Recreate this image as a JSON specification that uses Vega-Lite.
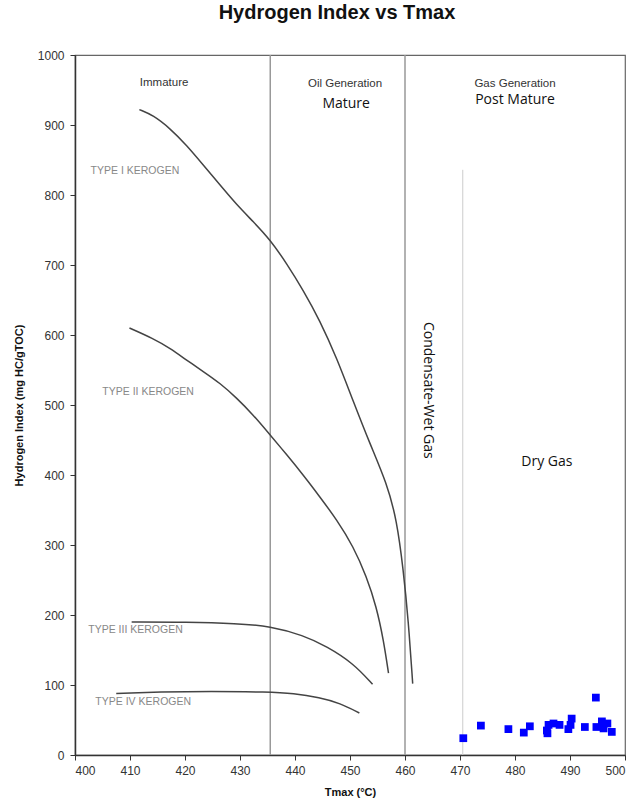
{
  "$schema": "https://vega.github.io/schema/vega-lite/v6.json",
  "width": 550,
  "height": 700,
  "autosize": "none",
  "padding": {"left": 75, "top": 55, "right": 10, "bottom": 50},
  "background": "white",
  "title": {"text": "Hydrogen Index vs Tmax", "font": "Liberation Sans", "fontSize": 20, "fontWeight": "bold", "color": "#111", "anchor": "middle", "dx": -13, "offset": 26},
  "config": {
    "view": {"stroke": "#666", "strokeWidth": 1.2},
    "axis": {"grid": false, "labelFont": "Liberation Sans", "labelFontSize": 12, "labelColor": "#333", "domainColor": "#333", "domainWidth": 1.5, "tickColor": "#333", "tickSize": 5, "titleFont": "Liberation Sans", "titleFontSize": 11, "titleFontWeight": "bold", "titleColor": "#111"}
  },
  "datasets": {
    "curves": [
      {"type": "I", "tmax": 411.7, "hi": 922}, {"type": "I", "tmax": 414.2, "hi": 914}, {"type": "I", "tmax": 417.3, "hi": 895}, {"type": "I", "tmax": 420.3, "hi": 871}, {"type": "I", "tmax": 423.3, "hi": 843}, {"type": "I", "tmax": 426.4, "hi": 814}, {"type": "I", "tmax": 429.4, "hi": 786}, {"type": "I", "tmax": 432.4, "hi": 762}, {"type": "I", "tmax": 435.5, "hi": 736}, {"type": "I", "tmax": 438.5, "hi": 702}, {"type": "I", "tmax": 441.5, "hi": 664}, {"type": "I", "tmax": 444.5, "hi": 621}, {"type": "I", "tmax": 447.6, "hi": 567}, {"type": "I", "tmax": 450.6, "hi": 505}, {"type": "I", "tmax": 453.6, "hi": 445}, {"type": "I", "tmax": 456.7, "hi": 388}, {"type": "I", "tmax": 458.5, "hi": 336}, {"type": "I", "tmax": 459.7, "hi": 264}, {"type": "I", "tmax": 460.6, "hi": 193}, {"type": "I", "tmax": 461.4, "hi": 102},
      {"type": "II", "tmax": 409.9, "hi": 610}, {"type": "II", "tmax": 414.2, "hi": 595}, {"type": "II", "tmax": 417.3, "hi": 581}, {"type": "II", "tmax": 420.3, "hi": 564}, {"type": "II", "tmax": 423.3, "hi": 548}, {"type": "II", "tmax": 426.4, "hi": 531}, {"type": "II", "tmax": 429.4, "hi": 510}, {"type": "II", "tmax": 432.4, "hi": 486}, {"type": "II", "tmax": 435.5, "hi": 457}, {"type": "II", "tmax": 438.5, "hi": 429}, {"type": "II", "tmax": 441.5, "hi": 400}, {"type": "II", "tmax": 444.5, "hi": 369}, {"type": "II", "tmax": 447.6, "hi": 336}, {"type": "II", "tmax": 450.6, "hi": 298}, {"type": "II", "tmax": 453.0, "hi": 255}, {"type": "II", "tmax": 454.8, "hi": 212}, {"type": "II", "tmax": 456.1, "hi": 164}, {"type": "II", "tmax": 457.0, "hi": 117},
      {"type": "III", "tmax": 410.3, "hi": 190}, {"type": "III", "tmax": 420.3, "hi": 190}, {"type": "III", "tmax": 429.4, "hi": 188}, {"type": "III", "tmax": 435.5, "hi": 184}, {"type": "III", "tmax": 441.5, "hi": 171}, {"type": "III", "tmax": 445.8, "hi": 155}, {"type": "III", "tmax": 450.6, "hi": 131}, {"type": "III", "tmax": 454.1, "hi": 101},
      {"type": "IV", "tmax": 407.5, "hi": 88}, {"type": "IV", "tmax": 415.5, "hi": 90}, {"type": "IV", "tmax": 424.5, "hi": 91}, {"type": "IV", "tmax": 435.1, "hi": 90}, {"type": "IV", "tmax": 439.7, "hi": 88}, {"type": "IV", "tmax": 444.5, "hi": 82}, {"type": "IV", "tmax": 448.2, "hi": 74}, {"type": "IV", "tmax": 451.7, "hi": 60}
    ],
    "samples": [
      {"tmax": 470.6, "hi": 24}, {"tmax": 473.8, "hi": 42}, {"tmax": 478.8, "hi": 37}, {"tmax": 481.6, "hi": 32}, {"tmax": 482.7, "hi": 41}, {"tmax": 485.8, "hi": 35}, {"tmax": 485.9, "hi": 31}, {"tmax": 486.1, "hi": 43}, {"tmax": 487.0, "hi": 45}, {"tmax": 488.1, "hi": 43}, {"tmax": 489.7, "hi": 37}, {"tmax": 490.1, "hi": 43}, {"tmax": 490.3, "hi": 52}, {"tmax": 492.7, "hi": 40}, {"tmax": 494.7, "hi": 82}, {"tmax": 494.8, "hi": 40}, {"tmax": 495.8, "hi": 48}, {"tmax": 496.1, "hi": 38}, {"tmax": 496.8, "hi": 45}, {"tmax": 497.6, "hi": 33}
    ],
    "zones": [{"tmax": 435.5}, {"tmax": 460}],
    "drygas": [{"tmax": 470.5, "lo": 0, "hi": 836}],
    "kerogenLabels": [
      {"label": "TYPE I KEROGEN", "tmax": 410.9, "hi": 834},
      {"label": "TYPE II KEROGEN", "tmax": 413.3, "hi": 519},
      {"label": "TYPE III KEROGEN", "tmax": 411.0, "hi": 179},
      {"label": "TYPE IV KEROGEN", "tmax": 412.4, "hi": 76}
    ],
    "zoneLabels": [
      {"label": "Immature", "tmax": 416.2, "hi": 960},
      {"label": "Oil Generation", "tmax": 449.1, "hi": 959},
      {"label": "Gas Generation", "tmax": 480.0, "hi": 959}
    ],
    "maturityLabels": [
      {"label": "Mature", "tmax": 449.3, "hi": 930},
      {"label": "Post Mature", "tmax": 480.0, "hi": 936},
      {"label": "Dry Gas", "tmax": 485.8, "hi": 419}
    ],
    "wetgasLabel": [{"label": "Condensate-Wet Gas", "tmax": 464.2, "hi": 521}]
  },
  "encoding": {
    "x": {"field": "tmax", "type": "quantitative", "scale": {"domain": [400, 500], "nice": false, "zero": false}, "axis": {"title": "Tmax (°C)", "values": [400, 410, 420, 430, 440, 450, 460, 470, 480, 490, 500], "labelPadding": 5, "titlePadding": 10}},
    "y": {"field": "hi", "type": "quantitative", "scale": {"domain": [0, 1000], "nice": false}, "axis": {"title": "Hydrogen Index (mg HC/gTOC)", "format": "d", "values": [0, 100, 200, 300, 400, 500, 600, 700, 800, 900, 1000], "labelPadding": 6, "titlePadding": 13}}
  },
  "layer": [
    {"data": {"name": "zones"}, "mark": {"type": "rule", "color": "#999", "strokeWidth": 1.5}, "encoding": {"y": {"value": 0}, "y2": {"value": 700}}},
    {"data": {"name": "drygas"}, "mark": {"type": "rule", "color": "#ccc", "strokeWidth": 1}, "encoding": {"y": {"field": "lo", "type": "quantitative"}, "y2": {"field": "hi"}}},
    {"data": {"name": "curves"}, "mark": {"type": "line", "color": "#444", "strokeWidth": 1.5, "interpolate": "basis"}, "encoding": {"detail": {"field": "type"}}},
    {"data": {"name": "samples"}, "mark": {"type": "point", "shape": "square", "filled": true, "color": "#0000ff", "opacity": 1, "size": 60}},
    {"data": {"name": "kerogenLabels"}, "mark": {"type": "text", "font": "Liberation Sans", "fontSize": 10.5, "color": "#888", "align": "center", "baseline": "middle"}, "encoding": {"text": {"field": "label"}}},
    {"data": {"name": "zoneLabels"}, "mark": {"type": "text", "font": "Liberation Sans", "fontSize": 11.5, "color": "#333", "align": "center", "baseline": "middle"}, "encoding": {"text": {"field": "label"}}},
    {"data": {"name": "maturityLabels"}, "mark": {"type": "text", "font": "Open Sans", "fontSize": 14, "color": "#111", "align": "center", "baseline": "middle"}, "encoding": {"text": {"field": "label"}}},
    {"data": {"name": "wetgasLabel"}, "mark": {"type": "text", "font": "Open Sans", "fontSize": 14, "color": "#111", "align": "center", "baseline": "middle", "angle": 90}, "encoding": {"text": {"field": "label"}}}
  ]
}
